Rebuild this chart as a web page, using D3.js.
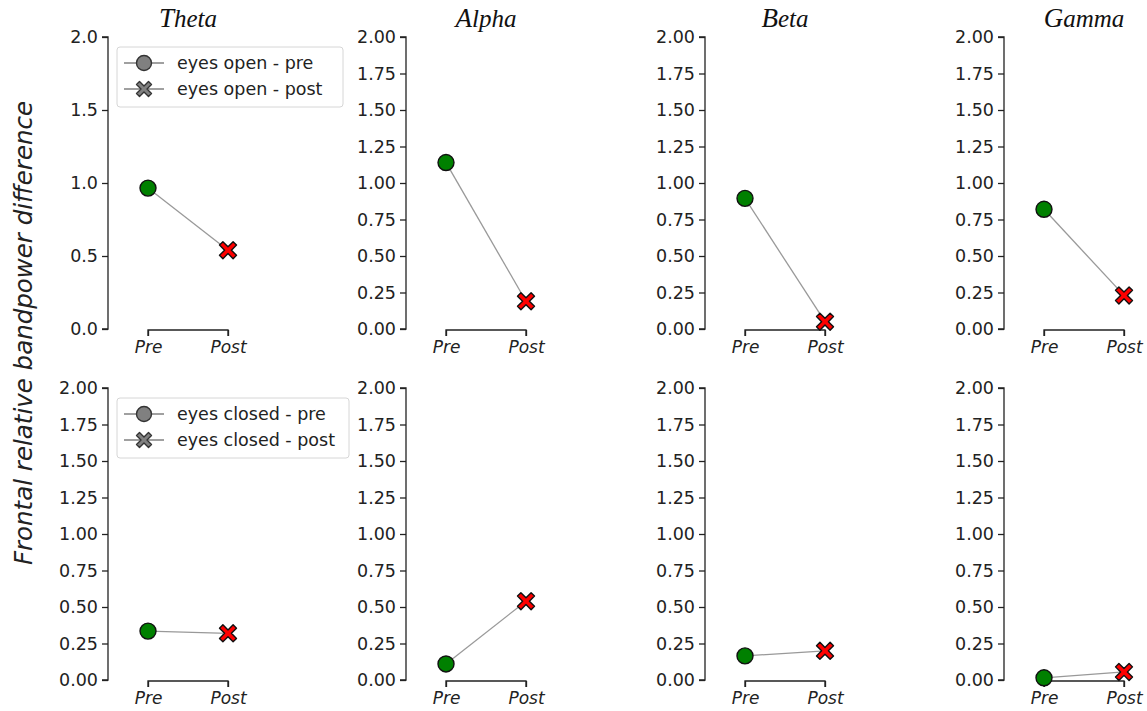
<!DOCTYPE html>
<html>
<head>
<meta charset="utf-8">
<script src="https://cdn.jsdelivr.net/npm/d3@7"></script>
<style>
  body { margin: 0; background: #fff; }
  svg { font-family: "DejaVu Sans", sans-serif; }
</style>
</head>
<body>
<svg id="chart" width="1147" height="711"></svg>
<script>
// Frequency bands (columns) and conditions (rows)
const bands = ["Theta", "Alpha", "Beta", "Gamma"];
const phases = ["Pre", "Post"];
const conditions = ["eyes open", "eyes closed"];

// Frontal relative bandpower difference, per band: [pre, post]
const eyesOpen = [
  [0.965, 0.54],
  [1.14, 0.19],
  [0.895, 0.05],
  [0.82, 0.23]
];
const eyesClosed = [
  [0.335, 0.32],
  [0.11, 0.54],
  [0.165, 0.20],
  [0.015, 0.055]
];
const rowValues = [eyesOpen, eyesClosed];

// Tick labels: first panel uses one decimal, others two
const ticksCoarse = [0, 0.5, 1.0, 1.5, 2.0];
const ticksFine = [0, 0.25, 0.5, 0.75, 1.0, 1.25, 1.5, 1.75, 2.0];

const svg = d3.select("#chart");

const colX = [108, 406, 705, 1004];   // y-spine position of each column
const rowY = [[37, 329], [388, 680]]; // [top, bottom] of each row

const pointColor = { Pre: "#008000", Post: "#ff0000" };

// X-shaped marker path (filled cross)
function crossPath(s) {
  const a = s * 0.5, b = s * 0.2;
  return `M${-a},${-a + b}L${-a + b},${-a}L0,${-b}L${a - b},${-a}L${a},${-a + b}L${b},0L${a},${a - b}L${a - b},${a}L0,${b}L${-a + b},${a}L${-a},${a - b}L${-b},0Z`;
}

rowValues.forEach((rows, r) => {
  bands.forEach((band, c) => {
    const x0 = colX[c];
    const x = d3.scalePoint().domain(phases).range([x0 + 40, x0 + 120]);
    const y = d3.scaleLinear().domain([0, 2]).range([rowY[r][1], rowY[r][0]]);
    const g = svg.append("g");

    const coarse = (r === 0 && c === 0);
    const yAxis = d3.axisLeft(y)
      .tickValues(coarse ? ticksCoarse : ticksFine)
      .tickFormat(coarse ? d3.format(".1f") : d3.format(".2f"))
      .tickSize(6).tickPadding(4);
    const ya = g.append("g").attr("transform", `translate(${x0},0)`).call(yAxis);
    ya.select(".domain").attr("d", `M-6,${y(2)}H0V${y(0)}H-6`).attr("stroke", "#222").attr("stroke-width", 1.3);
    ya.selectAll(".tick line").attr("stroke", "#222").attr("stroke-width", 1.3);
    ya.selectAll(".tick text").attr("font-size", 17.5).attr("fill", "#222")
      .attr("font-family", "DejaVu Sans, sans-serif");

    const xAxis = d3.axisBottom(x).tickSize(6).tickPadding(5);
    const xa = g.append("g").attr("transform", `translate(0,${y(0) + 1})`).call(xAxis);
    xa.select(".domain").attr("d", `M${x("Pre")},6V0H${x("Post")}V6`).attr("stroke", "#222").attr("stroke-width", 1.3);
    xa.selectAll(".tick line").attr("stroke", "#222").attr("stroke-width", 1.3);
    xa.selectAll(".tick text").attr("font-size", 17).attr("fill", "#222")
      .attr("font-style", "italic").attr("font-family", "DejaVu Sans, sans-serif");

    const vals = rows[c];
    const pts = phases.map((p, i) => ({ p, v: vals[i] }));

    g.append("path")
      .attr("d", d3.line().x(d => x(d.p)).y(d => y(d.v))(pts))
      .attr("stroke", "#999").attr("stroke-width", 1.3).attr("fill", "none");

    g.append("circle")
      .attr("cx", x("Pre")).attr("cy", y(vals[0])).attr("r", 8)
      .attr("fill", pointColor.Pre).attr("stroke", "#111").attr("stroke-width", 1.4);
    g.append("path")
      .attr("transform", `translate(${x("Post")},${y(vals[1])})`)
      .attr("d", crossPath(17))
      .attr("fill", pointColor.Post).attr("stroke", "#111").attr("stroke-width", 1.4)
      .attr("stroke-linejoin", "round");

    if (r === 0) {
      const t = svg.append("text")
        .attr("x", x0 + 80).attr("y", 27)
        .attr("text-anchor", "middle")
        .attr("font-size", 25).attr("font-style", "italic")
        .attr("font-family", "Liberation Serif, DejaVu Serif, serif")
        .attr("fill", "#111");
      t.append("tspan").attr("font-size", 27).text(band[0]);
      t.append("tspan").text(band.slice(1));
    }

    // Legend in the first column of each row
    if (c === 0) {
      const lx = 117, ly = rowY[r][0] + 10;
      const labels = [`${conditions[r]} - pre`, `${conditions[r]} - post`];
      const lw = r === 0 ? 226 : 232;
      const lg = svg.append("g").attr("transform", `translate(${lx},${ly})`);
      lg.append("rect").attr("width", lw).attr("height", 60).attr("rx", 3)
        .attr("fill", "#fff").attr("fill-opacity", 0.8)
        .attr("stroke", "#d6d6d6").attr("stroke-width", 1);
      labels.forEach((lab, i) => {
        const cy = 16 + i * 26;
        lg.append("line").attr("x1", 7).attr("x2", 47).attr("y1", cy).attr("y2", cy)
          .attr("stroke", "#808080").attr("stroke-width", 1.5);
        if (i === 0) {
          lg.append("circle").attr("cx", 27).attr("cy", cy).attr("r", 7.5)
            .attr("fill", "#808080").attr("stroke", "#333").attr("stroke-width", 1.4);
        } else {
          lg.append("path").attr("transform", `translate(27,${cy})`).attr("d", crossPath(15))
            .attr("fill", "#808080").attr("stroke", "#333").attr("stroke-width", 1.4)
            .attr("stroke-linejoin", "round");
        }
        lg.append("text").attr("x", 60).attr("y", cy + 6)
          .attr("font-size", 17.5).attr("fill", "#222").text(lab);
      });
    }
  });
});

// Shared y label
svg.append("text")
  .attr("transform", "translate(32,333) rotate(-90)")
  .attr("text-anchor", "middle")
  .attr("font-size", 24.5).attr("font-style", "italic")
  .attr("fill", "#222")
  .text("Frontal relative bandpower difference");
</script>
</body>
</html>
